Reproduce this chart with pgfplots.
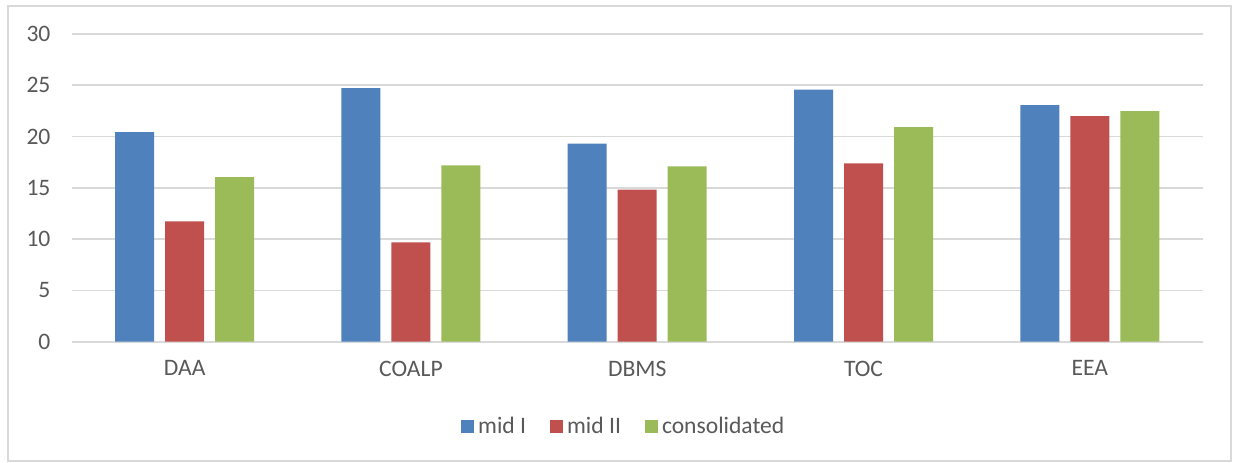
\documentclass[border=0pt]{standalone}
\usepackage{pgfplots}
\pgfplotsset{compat=1.18}
\usepackage{fontspec}
\setmainfont{Carlito}
\definecolor{cblue}{HTML}{4F81BD}
\definecolor{cred}{HTML}{C0504D}
\definecolor{cgreen}{HTML}{9BBB59}
\definecolor{cgrid}{HTML}{D9D9D9}
\definecolor{ctext}{HTML}{595959}
\begin{document}
\begin{tikzpicture}
\path[use as bounding box] (0,0) rectangle (616.5pt,231pt);
\draw[cgrid, line width=0.8pt] (4pt,0.5pt) rectangle (615.5pt,228pt);
\begin{axis}[
  at={(35.75pt,60.15pt)}, anchor=south west,
  scale only axis, width=565.75pt, height=153.85pt,
  ybar=5.5pt, bar width=19.5pt,
  xmin=-0.5, xmax=4.5, ymin=0, ymax=30,
  xtick=data, xticklabels={DAA,COALP,DBMS,TOC,EEA},
  ytick={0,5,...,30},
  axis line style={draw=none},
  major tick length=0pt,
  ymajorgrids, grid style={cgrid, line width=0.8pt},
  tick label style={font=\fontsize{11.8}{14}\selectfont, text=ctext},
  /pgf/number format/assume math mode=true,
  yticklabel style={xshift=-7pt},
  xticklabel style={yshift=-6pt},
  legend columns=-1,
  legend style={at={(0.489,-0.277)}, anchor=center, draw=none,
    font=\fontsize{11.8}{14}\selectfont, text=ctext,
    /tikz/every even column/.append style={column sep=10pt},
    inner sep=0pt},
  legend image code/.code={\fill[#1,draw=none] (0pt,-3.25pt) rectangle (6.5pt,3.25pt);},
]
\addplot[fill=cblue, draw=none] coordinates {(0,20.44) (1,24.73) (2,19.30) (3,24.57) (4,23.07)};
\addplot[fill=cred, draw=none] coordinates {(0,11.73) (1,9.68) (2,14.82) (3,17.39) (4,22.00)};
\addplot[fill=cgreen, draw=none] coordinates {(0,16.05) (1,17.19) (2,17.09) (3,20.93) (4,22.49)};
\legend{mid I, mid II, consolidated}
\end{axis}
\end{tikzpicture}
\end{document}
